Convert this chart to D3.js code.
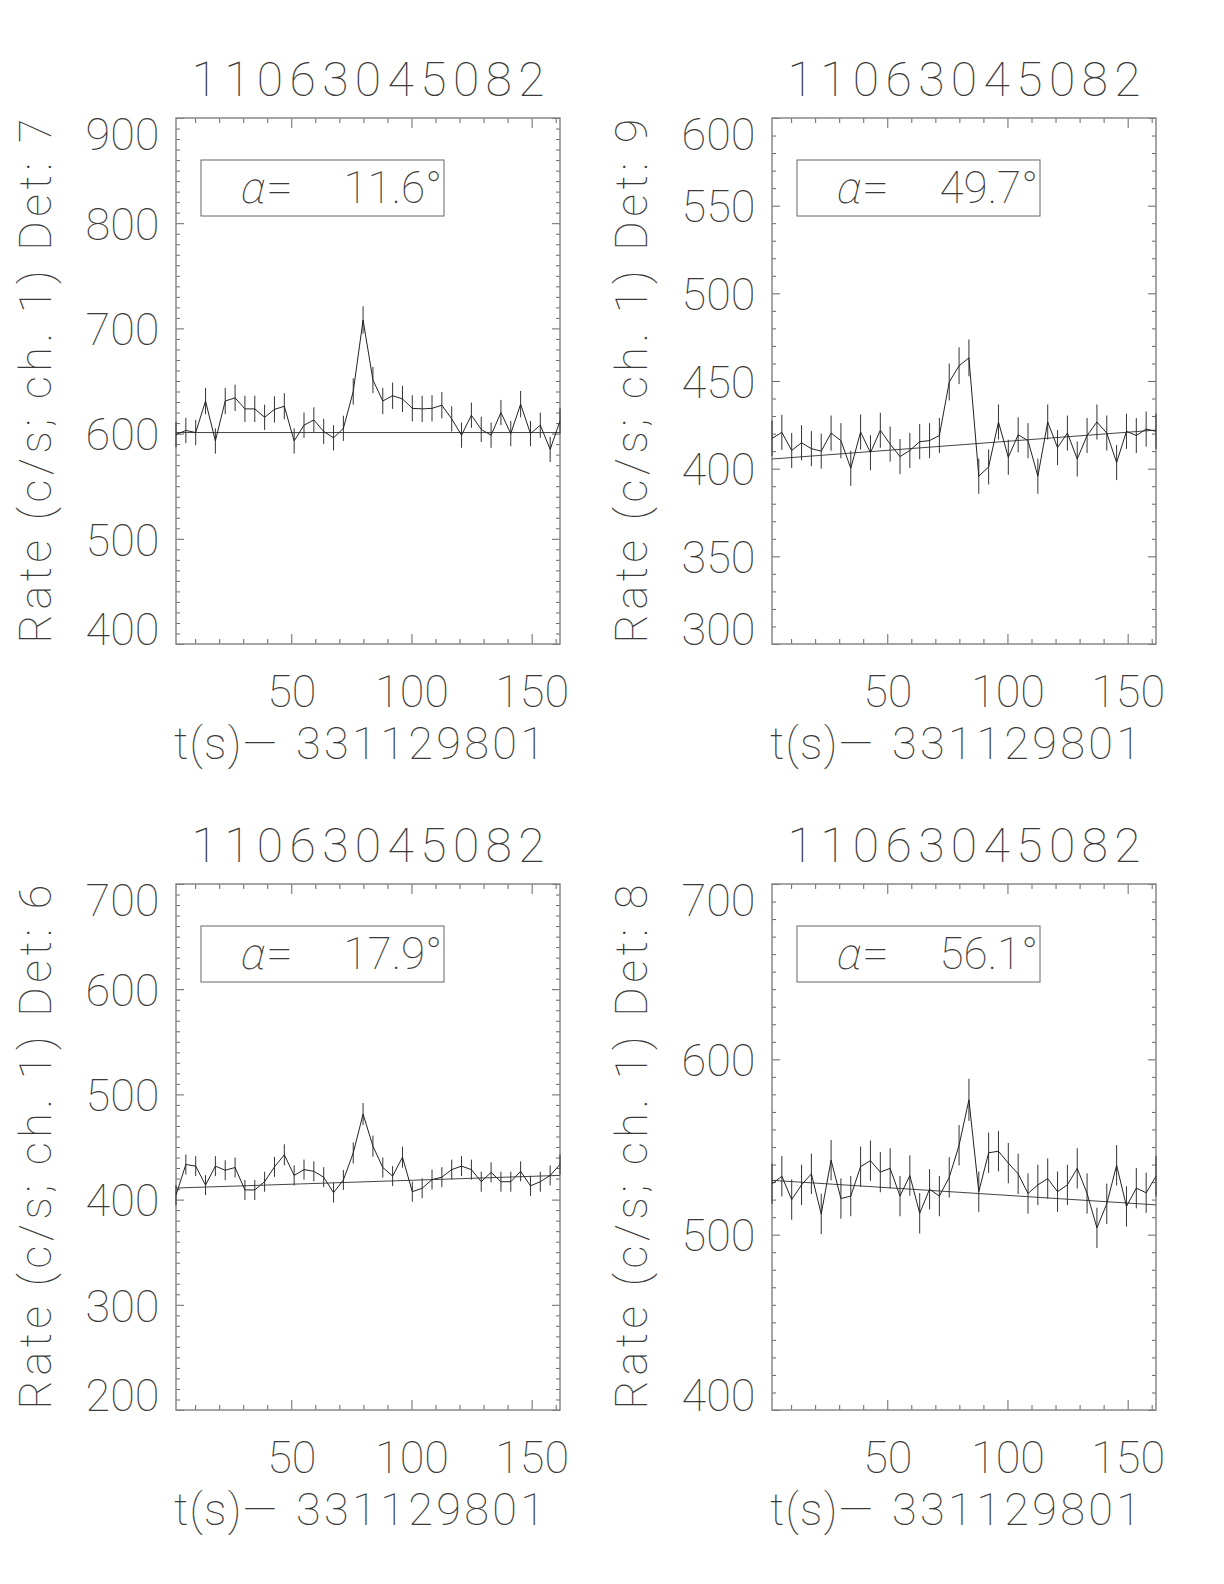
<!DOCTYPE html>
<html>
<head>
<meta charset="utf-8">
<script src="https://cdn.jsdelivr.net/npm/d3@7"></script>
<style>
  body { margin: 0; background: #fff; }
  text { font-family: Roboto, "Liberation Sans", sans-serif; font-weight: 100; fill: #3a3a3a; }
</style>
</head>
<body>
<svg id="chart" width="1224" height="1584"></svg>
<script>
// time bins, seconds after 331129801
const times = [2.05, 6.15, 10.24, 14.34, 18.43, 22.53, 26.63, 30.72, 34.82, 38.91,
  43.01, 47.11, 51.20, 55.30, 59.39, 63.49, 67.59, 71.68, 75.78, 79.87,
  83.97, 88.07, 92.16, 96.26, 100.35, 104.45, 108.55, 112.64, 116.74, 120.83,
  124.93, 129.03, 133.12, 137.22, 141.31, 145.41, 149.51, 153.60, 157.70, 161.79];

const rate7 = [599, 603, 601, 631, 593, 631, 634, 623.5, 623.5, 615.5, 623, 626, 593, 608, 613, 602, 596, 605, 640, 708,
  651, 631, 636, 633, 624, 623.5, 624, 627, 614, 598.5, 617.5, 604, 598.5, 620, 600, 628, 600, 608, 585, 612];
const err7 = [12, 12, 12, 12.5, 12, 12.5, 12.5, 12.5, 12.5, 12, 12.5, 12.5, 12, 12, 12, 12, 12, 12, 12.5, 13,
  12.5, 12.5, 12.5, 12.5, 12.5, 12.5, 12.5, 12.5, 12, 12, 12, 12, 12, 12, 12, 12.5, 12, 12, 12, 12];

const rate9 = [417.3, 420.7, 410.4, 414.8, 411.4, 410.0, 420.3, 416.0, 400.2, 420.9, 409.1, 421.9, 414.0, 406.9, 410.4, 415.4, 416.0, 418.9, 449.4, 458.7,
  463.2, 395.7, 401.0, 426.6, 406.5, 419.3, 416.0, 395.7, 426.6, 412.0, 420.3, 405.5, 418.9, 426.6, 420.3, 403.5, 421.3, 418.9, 422.6, 421.3];
const err9 = [10, 10, 10, 10, 10, 10, 10, 10, 10, 10, 10, 10, 10, 10, 10, 10, 10, 10, 10.5, 10.5,
  10.5, 10, 10, 10, 10, 10, 10, 10, 10, 10, 10, 10, 10, 10, 10, 10, 10, 10, 10, 10];

const rate6 = [404.3, 433.4, 431.8, 413.8, 431.8, 427.9, 430.5, 409.2, 409.2, 417.0, 431.1, 442.6, 423.0, 428.5, 426.9, 421.3, 406.6, 418.7, 444.3, 481.3,
  450.8, 430.5, 422.3, 440.3, 407.5, 410.8, 419.0, 421.3, 428.5, 431.8, 428.5, 417.0, 425.9, 417.0, 417.0, 426.9, 413.1, 417.0, 423.0, 433.4];
const err6 = [9.5, 9.5, 9.5, 9.5, 9.5, 9.5, 9.5, 9.5, 9.5, 9.5, 9.5, 10, 9.5, 9.5, 9.5, 9.5, 9.5, 9.5, 10, 10.5,
  10, 9.5, 9.5, 10, 9.5, 9.5, 9.5, 9.5, 9.5, 9.5, 9.5, 9.5, 9.5, 9.5, 9.5, 9.5, 9.5, 9.5, 9.5, 9.5];

const rate8 = [529.0, 533.3, 520.0, 528.4, 534.7, 511.8, 542.5, 520.6, 522.0, 538.8, 542.2, 535.7, 537.8, 522.0, 533.7, 512.2, 525.9, 522.0, 532.7, 551.0,
  576.9, 524.5, 546.7, 547.6, 540.8, 534.7, 523.5, 528.4, 532.0, 524.5, 528.4, 537.8, 523.5, 503.9, 517.6, 539.6, 516.1, 526.5, 523.9, 533.3];
const err8 = [11.5, 11.5, 11.5, 11.5, 11.5, 11.5, 11.5, 11.5, 11.5, 11.5, 11.5, 11.5, 11.5, 11.5, 11.5, 11.5, 11.5, 11.5, 11.5, 11.5,
  12, 11.5, 11.5, 11.5, 11.5, 11.5, 11.5, 11.5, 11.5, 11.5, 11.5, 11.5, 11.5, 11.5, 11.5, 11.5, 11.5, 11.5, 11.5, 11.5];

// background fit, value at first and last bin
const fitStart = [601, 405.5, 411, 531];
const fitEnd = [601, 422, 423, 517];

const obsId = "11063045082";
const tZero = "331129801";
const detectors = [7, 9, 6, 8];
const alphas = ["11.6", "49.7", "17.9", "56.1"];
const yDomains = [[400, 900], [300, 600], [200, 700], [400, 700]];
const yMajor = [[400, 500, 600, 700, 800, 900], [300, 350, 400, 450, 500, 550, 600],
  [200, 300, 400, 500, 600, 700], [400, 500, 600, 700]];
const xMajor = [50, 100, 150];

const rates = [rate7, rate9, rate6, rate8];
const errs = [err7, err9, err6, err8];

const W = 384, H = 526;
const origins = [[176, 118], [772, 118], [176, 884], [772, 884]];
const svg = d3.select("#chart");

const tickColor = "#666";

function styleAxis(g) {
  g.select(".domain").remove();
  g.selectAll("line").attr("stroke", tickColor).attr("stroke-width", 1);
  g.attr("font-family", null).attr("font-size", 45);
}

rates.forEach((rate, i) => {
  const [ox, oy] = origins[i];
  const g = svg.append("g").attr("transform", `translate(${ox},${oy})`);

  const x = d3.scaleLinear().domain([times[0], times[times.length - 1]]).range([0, W]);
  const y = d3.scaleLinear().domain(yDomains[i]).range([H, 0]);

  const xMinor = d3.range(10, 170, 10).filter(v => v >= x.domain()[0] && v <= x.domain()[1] && v % 50 !== 0);
  const yMinor = d3.range(yDomains[i][0], yDomains[i][1] + 1, 10).filter(v => !yMajor[i].includes(v));

  // bottom axis with labels
  const xb = g.append("g").attr("transform", `translate(0,${H})`)
    .call(d3.axisBottom(x).tickValues(xMajor).tickSize(-10).tickFormat(d3.format("d")));
  styleAxis(xb);
  xb.selectAll("text").attr("y", 63).attr("dy", null).attr("fill", null);
  const xbm = g.append("g").attr("transform", `translate(0,${H})`)
    .call(d3.axisBottom(x).tickValues(xMinor).tickSize(-5).tickFormat(""));
  styleAxis(xbm);

  // top mirror
  styleAxis(g.append("g").call(d3.axisTop(x).tickValues(xMajor).tickSize(-10).tickFormat("")));
  styleAxis(g.append("g").call(d3.axisTop(x).tickValues(xMinor).tickSize(-5).tickFormat("")));

  // left axis with labels; end labels are pulled inside the frame
  const [yLo, yHi] = yDomains[i];
  const yl = g.append("g")
    .call(d3.axisLeft(y).tickValues(yMajor[i]).tickSize(-8).tickPadding(16.5).tickFormat(d3.format("d")));
  styleAxis(yl);
  yl.selectAll("text").attr("fill", null)
    .attr("dy", d => d === yHi ? "0.70em" : d === yLo ? "0.02em" : "0.36em");
  styleAxis(g.append("g").call(d3.axisLeft(y).tickValues(yMinor).tickSize(-4).tickFormat("")));

  // right mirror
  styleAxis(g.append("g").attr("transform", `translate(${W},0)`)
    .call(d3.axisRight(y).tickValues(yMajor[i]).tickSize(-8).tickFormat("")));
  styleAxis(g.append("g").attr("transform", `translate(${W},0)`)
    .call(d3.axisRight(y).tickValues(yMinor).tickSize(-4).tickFormat("")));

  // frame
  g.append("rect").attr("x", 0).attr("y", 0).attr("width", W).attr("height", H)
    .attr("fill", "none").attr("stroke", "#888").attr("stroke-width", 1.5);

  // background fit
  g.append("line")
    .attr("x1", x(times[0])).attr("y1", y(fitStart[i]))
    .attr("x2", x(times[times.length - 1])).attr("y2", y(fitEnd[i]))
    .attr("stroke", "#444").attr("stroke-width", 1);

  const pts = times.map((t, k) => ({t: t, r: rate[k], e: errs[i][k]}));

  // error bars
  g.selectAll(".err").data(pts).enter().append("line")
    .attr("class", "err")
    .attr("x1", d => x(d.t)).attr("x2", d => x(d.t))
    .attr("y1", d => y(d.r - d.e)).attr("y2", d => y(d.r + d.e))
    .attr("stroke", "#333").attr("stroke-width", 1);

  // light curve
  g.append("path").datum(pts)
    .attr("fill", "none").attr("stroke", "#222").attr("stroke-width", 1)
    .attr("d", d3.line().x(d => x(d.t)).y(d => y(d.r)));

  // legend box
  g.append("rect").attr("x", 25).attr("y", 42).attr("width", 243).attr("height", 56)
    .attr("fill", "none").attr("stroke", "#666").attr("stroke-width", 1);
  g.append("text").attr("transform", "translate(62,84.5) skewX(-14)")
    .attr("font-size", 44).text("α");
  g.append("text").attr("x", 90).attr("y", 84.5).attr("font-size", 44)
    .attr("textLength", 27).attr("lengthAdjust", "spacingAndGlyphs").text("=");
  g.append("text").attr("x", 266).attr("y", 84.5).attr("font-size", 44)
    .attr("text-anchor", "end").text(alphas[i] + "°");

  // title
  g.append("text").attr("x", W / 2).attr("y", -22).attr("font-size", 48)
    .attr("text-anchor", "middle").attr("textLength", 353).attr("lengthAdjust", "spacing")
    .text(obsId);

  // x title
  g.append("text").attr("x", -2).attr("y", H + 115).attr("font-size", 45)
    .attr("textLength", 103).attr("lengthAdjust", "spacing").text("t(s)—");
  g.append("text").attr("x", 120).attr("y", H + 115).attr("font-size", 45)
    .attr("textLength", 249).attr("lengthAdjust", "spacing").text(tZero);

  // y title
  g.append("text").attr("transform", `translate(-125,${H / 2}) rotate(-90)`)
    .attr("font-size", 45).attr("text-anchor", "middle")
    .attr("textLength", 525).attr("lengthAdjust", "spacing")
    .text(`Rate (c/s; ch. 1) Det: ${detectors[i]}`);
});
</script>
</body>
</html>
